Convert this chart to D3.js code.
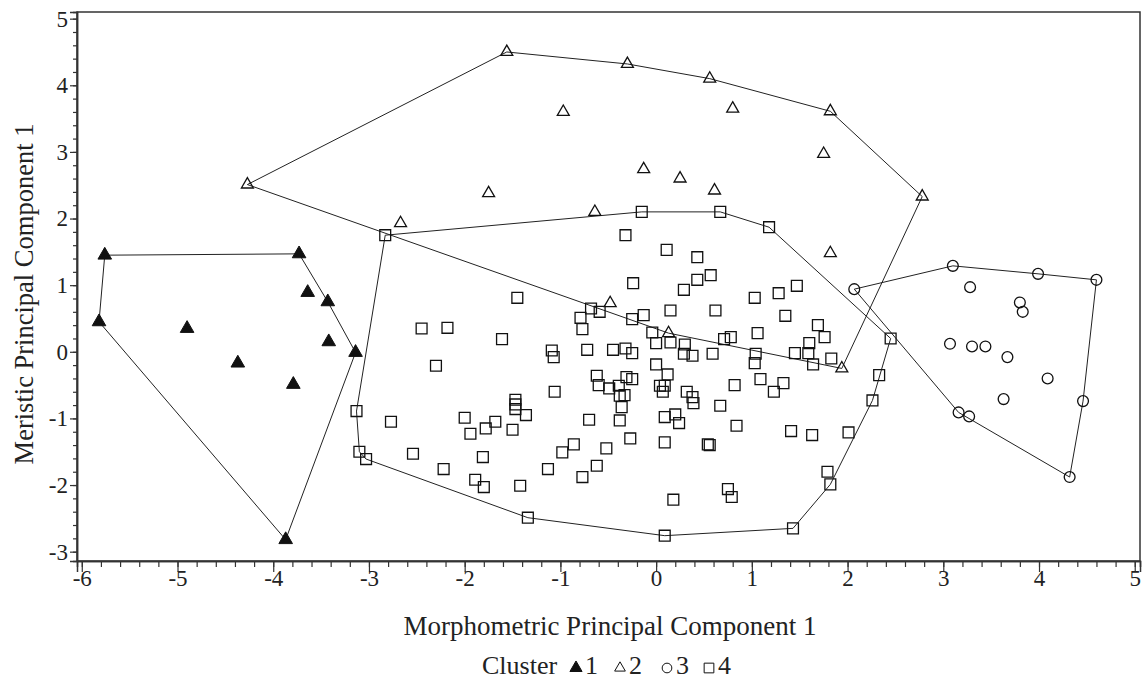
<!DOCTYPE html>
<html>
<head>
<meta charset="utf-8">
<script src="https://cdn.jsdelivr.net/npm/d3@7"></script>
<style>
  body { margin: 0; background: #fff; }
  text { font-family: "Liberation Serif", "Times New Roman", serif; fill: #222; }
</style>
</head>
<body>
<div id="chart"></div>
<script>
// Cluster 1 (filled triangles) - [morphometric PC1, meristic PC1]
const cluster1 = [[-5.76,1.45],[-3.73,1.47],[-3.64,0.89],[-5.82,0.45],[-4.90,0.35],[-4.37,-0.17],
  [-3.79,-0.49],[-3.43,0.75],[-3.42,0.15],[-3.14,-0.01],[-3.87,-2.82]];

// Cluster 2 (open triangles)
const cluster2 = [[-4.27,2.51],[-1.56,4.50],[-0.30,4.32],[0.56,4.10],[0.80,3.65],[-0.97,3.60],
  [-0.13,2.74],[0.25,2.60],[0.61,2.42],[-1.75,2.38],[-0.64,2.10],[-2.67,1.93],[-0.48,0.73],
  [0.13,0.28],[1.82,3.61],[1.75,2.97],[2.78,2.33],[1.82,1.48],[1.94,-0.25]];

// Cluster 3 (open circles)
const cluster3 = [[2.07,0.94],[3.10,1.29],[3.99,1.17],[4.60,1.08],[3.28,0.97],[3.80,0.74],[3.83,0.60],
  [3.07,0.12],[3.30,0.08],[3.44,0.08],[3.67,-0.08],[4.09,-0.40],[3.63,-0.71],[4.46,-0.74],
  [3.16,-0.91],[3.27,-0.97],[4.32,-1.88]];

// Cluster 4 (open squares)
const cluster4 = [[-2.83,1.75],[-0.15,2.10],[0.67,2.10],[1.18,1.87],[-0.32,1.75],[0.11,1.53],[0.43,1.42],
  [0.57,1.15],[0.43,1.08],[-0.24,1.03],[0.29,0.93],[-1.45,0.81],[1.03,0.81],[1.28,0.88],
  [-2.45,0.35],[-2.18,0.36],[-1.61,0.19],[-2.30,-0.21],[-0.68,0.65],[-0.59,0.60],[-0.79,0.51],
  [-0.77,0.34],[-0.25,0.49],[-0.13,0.55],[0.15,0.62],[0.62,0.62],[-0.04,0.29],[0.00,0.13],
  [0.15,0.14],[0.30,0.11],[0.29,-0.03],[0.38,-0.06],[0.59,-0.03],[0.71,0.19],[0.78,0.22],
  [1.06,0.28],[1.04,-0.03],[1.03,-0.17],[1.09,-0.41],[1.23,-0.60],
  [-1.09,0.02],[-1.07,-0.08],[-0.72,0.03],[-0.45,0.03],[-0.32,0.05],[-0.25,-0.02],[0.00,-0.19],
  [0.12,-0.34],[0.04,-0.51],[0.09,-0.51],[0.07,-0.60],[-0.62,-0.36],[-0.60,-0.50],[-0.49,-0.55],
  [-0.39,-0.51],[-0.31,-0.38],[-0.25,-0.41],[-0.38,-0.66],[-0.33,-0.65],[-0.36,-0.83],[-0.38,-1.03],
  [-0.27,-1.30],[-0.70,-1.02],[0.32,-0.60],[0.38,-0.68],[0.39,-0.77],[0.09,-0.98],[0.20,-0.94],
  [0.24,-1.07],[0.09,-1.36],[0.82,-0.50],[0.67,-0.81],[0.84,-1.11],[0.54,-1.39],[0.56,-1.40],
  [0.75,-2.06],[0.79,-2.18],[0.18,-2.22],[0.09,-2.76],[-1.34,-2.49],
  [-1.47,-0.72],[-1.47,-0.79],[-1.47,-0.86],[-1.36,-0.95],[-1.50,-1.17],[-1.68,-1.05],[-1.78,-1.15],
  [-1.94,-1.23],[-2.00,-0.99],[-2.77,-1.05],[-2.54,-1.53],[-2.22,-1.76],[-1.81,-1.58],[-1.89,-1.92],
  [-1.80,-2.03],[-1.42,-2.01],[-1.13,-1.76],[-0.98,-1.51],[-0.86,-1.39],[-0.52,-1.45],[-0.62,-1.71],
  [-0.77,-1.88],[-1.06,-0.60],
  [1.47,0.99],[1.35,0.54],[1.69,0.40],[1.76,0.22],[1.60,0.13],[1.45,-0.02],[1.59,-0.02],[1.64,-0.19],
  [1.83,-0.10],[1.33,-0.47],[2.45,0.20],[2.33,-0.35],[2.26,-0.73],[1.41,-1.19],[1.63,-1.25],
  [2.01,-1.21],[1.79,-1.80],[1.82,-1.99],[1.43,-2.65],
  [-3.13,-0.89],[-3.10,-1.50],[-3.03,-1.61]];

const clusterNames = ['1','2','3','4'];
const xTicks = [-6,-5,-4,-3,-2,-1,0,1,2,3,4,5];
const yTicks = [-3,-2,-1,0,1,2,3,4,5];

const width = 1144, height = 680;
const margin = {t:12, r:4, b:119, l:77};
const w = width - margin.l - margin.r;
const h = height - margin.t - margin.b;

const svg = d3.select('#chart').append('svg')
  .attr('width', width).attr('height', height);
const plot = svg.append('g').attr('transform', `translate(${margin.l},${margin.t})`);

const scaleX = d3.scaleLinear().domain([-6.05, 5.055]).range([0, w]);
const scaleY = d3.scaleLinear().domain([-3.14, 5.10]).range([h, 0]);

// marker styles per cluster
const clusters = [
  {name:'1', data:cluster1, type:d3.symbolTriangle, size:80, fill:'#111'},
  {name:'2', data:cluster2, type:d3.symbolTriangle, size:62, fill:'none'},
  {name:'3', data:cluster3, type:d3.symbolCircle, size:92, fill:'none'},
  {name:'4', data:cluster4, type:d3.symbolSquare, size:118, fill:'none'}
];

// frame
plot.append('rect')
  .attr('width', w).attr('height', h)
  .attr('fill', 'none').attr('stroke', '#333').attr('stroke-width', 1.5);

// minor ticks
const axisXMinor = d3.axisBottom(scaleX).tickValues(d3.range(-6, 5.01, 0.2)).tickSize(6).tickFormat('');
const axisYMinor = d3.axisLeft(scaleY).tickValues(d3.range(-3, 5.01, 0.2)).tickSize(4).tickFormat('');
// major ticks
const axisX = d3.axisBottom(scaleX).tickValues(xTicks).tickSize(11).tickPadding(-2).tickFormat(d => d);
const axisY = d3.axisLeft(scaleY).tickValues(yTicks).tickSize(7).tickPadding(2).tickFormat(d => d);

[axisXMinor, axisX].forEach(a => {
  const g = plot.append('g').attr('transform', `translate(0,${h})`).call(a);
  g.select('.domain').attr('stroke', '#333').attr('stroke-width', 1.5);
  g.selectAll('line').attr('stroke', '#333').attr('stroke-width', 1.2);
  g.selectAll('text').style('font-size', '23px').attr('fill', '#222')
    .style('font-family', '"Liberation Serif", serif');
});
[axisYMinor, axisY].forEach(a => {
  const g = plot.append('g').call(a);
  g.select('.domain').attr('stroke', '#333').attr('stroke-width', 1.5);
  g.selectAll('line').attr('stroke', '#333').attr('stroke-width', 1.2);
  g.selectAll('text').style('font-size', '23px').attr('fill', '#222')
    .style('font-family', '"Liberation Serif", serif');
});

// hulls
const line = d3.line().x(d => scaleX(d[0])).y(d => scaleY(d[1])).curve(d3.curveLinearClosed);
plot.selectAll('.hull')
  .data(clusters)
  .enter().append('path')
  .attr('class', 'hull')
  .attr('d', c => line(d3.polygonHull(c.data)))
  .attr('fill', 'none')
  .attr('stroke', '#222')
  .attr('stroke-width', 1);

// points
clusters.forEach(c => {
  plot.append('g').selectAll('path')
    .data(c.data)
    .enter().append('path')
    .attr('transform', d => `translate(${scaleX(d[0])},${scaleY(d[1])})`)
    .attr('d', d3.symbol().type(c.type).size(c.size))
    .attr('fill', c.fill)
    .attr('stroke', '#111')
    .attr('stroke-width', c.fill === 'none' ? 1.3 : 1);
});

// axis titles
svg.append('text')
  .attr('x', 610).attr('y', 635)
  .attr('text-anchor', 'middle')
  .style('font-size', '27px')
  .text('Morphometric Principal Component 1');

svg.append('text')
  .attr('transform', `translate(33,294) rotate(-90)`)
  .attr('text-anchor', 'middle')
  .style('font-size', '26.5px')
  .text('Meristic Principal Component 1');

// legend
const legend = svg.append('g').attr('transform', 'translate(482,674)');
legend.append('text').attr('x', 0).attr('y', 0).style('font-size', '26px').text('Cluster');
const legendX = [94, 138, 185, 227];
clusters.forEach((c, i) => {
  legend.append('path')
    .attr('transform', `translate(${legendX[i]},-6)`)
    .attr('d', d3.symbol().type(c.type).size(c.size * 0.8))
    .attr('fill', c.fill)
    .attr('stroke', '#111')
    .attr('stroke-width', 1);
  legend.append('text').attr('x', legendX[i] + 9).attr('y', 0)
    .style('font-size', '26px').text(clusterNames[i]);
});
</script>
</body>
</html>
